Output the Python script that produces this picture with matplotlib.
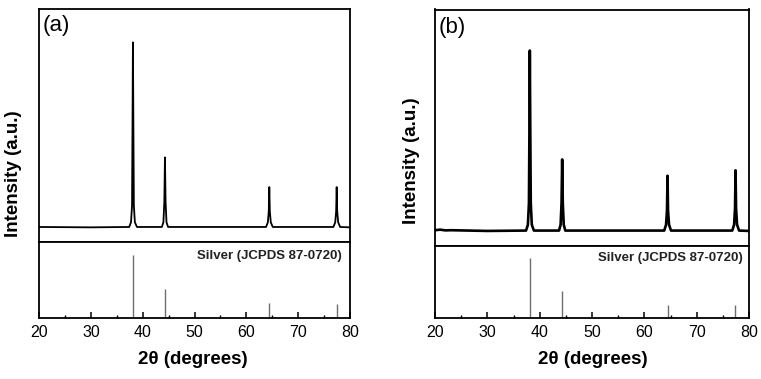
import matplotlib
matplotlib.use("Agg")
import matplotlib.pyplot as plt
from matplotlib.ticker import MultipleLocator

plt.rcParams['font.family'] = ['Liberation Sans', 'DejaVu Sans']

# measured pattern (a), baseline = 0, strongest peak = 100
two_theta_a = [20, 30, 37.4, 37.75, 37.95, 38.05, 38.12, 38.2, 38.3, 38.5, 38.9,
               43.7, 44.0, 44.18, 44.3, 44.42, 44.6, 44.9,
               63.8, 64.15, 64.33, 64.43, 64.53, 64.72, 65.1,
               76.8, 77.15, 77.33, 77.43, 77.53, 77.72, 78.1, 80]
intensity_a = [0.5, 0.3, 0.5, 3, 12, 60, 100, 60, 12, 3, 0.5,
               0.5, 3, 14, 38, 14, 3, 0.5,
               0.5, 3, 9, 22, 9, 3, 0.5,
               0.5, 3, 9, 22, 9, 3, 0.5, 0.3]

# measured pattern (b)
two_theta_b = [20, 21, 22, 23, 30, 37.4, 37.75, 37.95, 38.05, 38.12, 38.2, 38.3, 38.5, 38.9,
               43.7, 44.0, 44.18, 44.3, 44.42, 44.6, 44.9,
               63.8, 64.15, 64.33, 64.43, 64.53, 64.72, 65.1,
               76.8, 77.15, 77.33, 77.43, 77.53, 77.72, 78.1, 80]
intensity_b = [1.0, 1.3, 0.9, 1.0, 0.6, 0.8, 4, 16, 60, 100, 60, 16, 4, 0.8,
               0.8, 4, 16, 40, 16, 4, 0.8,
               0.8, 4, 12, 31, 12, 4, 0.8,
               0.8, 4, 13, 34, 13, 4, 0.8, 0.6]

# reference lines, Silver JCPDS 87-0720
ref_pos = [38.12, 44.30, 64.44, 77.40]
ref_int_a = [100, 46, 23, 22]
ref_int_b = [100, 45, 22, 21]
ref_label = "Silver (JCPDS 87-0720)"

W, H = 761, 379
fig = plt.figure(figsize=(W / 100, H / 100), dpi=100)


def box(left, right, top, bottom):
    return [left / W, (H - bottom) / H, (right - left) / W, (bottom - top) / H]


def panel(px, tag, tt, ii, ref_int, lw, ylim_top, ylab_xy, xlab_xy, tag_xy, ref_xy):
    left, right, top, mid, bottom = px
    ax1 = fig.add_axes(box(left, right, top, mid))
    ax2 = fig.add_axes(box(left, right, mid, bottom))

    ax1.plot(tt, ii, color='black', lw=lw)
    ax1.set_xlim(20, 80)
    ax1.set_ylim(ylim_top)
    ax1.set_xticks([])
    ax1.set_yticks([])
    ax1.text(tag_xy[0], tag_xy[1], tag, transform=ax1.transAxes,
             fontsize=16, ha='left', va='center')

    ax2.vlines(ref_pos, 0, ref_int, color='#6e6e6e', lw=1.0)
    ax2.set_xlim(20, 80)
    ax2.set_ylim(0, 120)
    ax2.set_yticks([])
    ax2.xaxis.set_major_locator(MultipleLocator(10))
    ax2.xaxis.set_minor_locator(MultipleLocator(5))
    ax2.tick_params(axis='x', which='major', direction='in', length=4, width=1.1,
                    labelsize=11.5, pad=5)
    ax2.tick_params(axis='x', which='minor', direction='in', length=2.5, width=1.0)
    ax2.text(ref_xy[0], ref_xy[1], ref_label, transform=ax2.transAxes,
             fontsize=9.5, fontweight='bold', ha='right', va='center', color='#222222')

    for ax in (ax1, ax2):
        for s in ax.spines.values():
            s.set_linewidth(1.3)

    fig.text(ylab_xy[0] / W, 1 - ylab_xy[1] / H, "Intensity (a.u.)", rotation=90,
             fontsize=13.5, fontweight='bold', ha='center', va='center')
    fig.text(xlab_xy[0] / W, 1 - xlab_xy[1] / H, "2θ (degrees)",
             fontsize=13.5, fontweight='bold', ha='center', va='center')


panel((39, 350, 9, 242, 318), "(a)", two_theta_a, intensity_a, ref_int_a, 1.3,
      (-7.6, 118), (14, 174), (193, 360), (0.012, 0.93), (0.974, 0.815))
panel((435, 749, 9.5, 246, 318), "(b)", two_theta_b, intensity_b, ref_int_b, 1.9,
      (-7.7, 122.6), (412, 161), (593, 360), (0.013, 0.926), (0.981, 0.83))

fig.savefig("out.png", dpi=100)
